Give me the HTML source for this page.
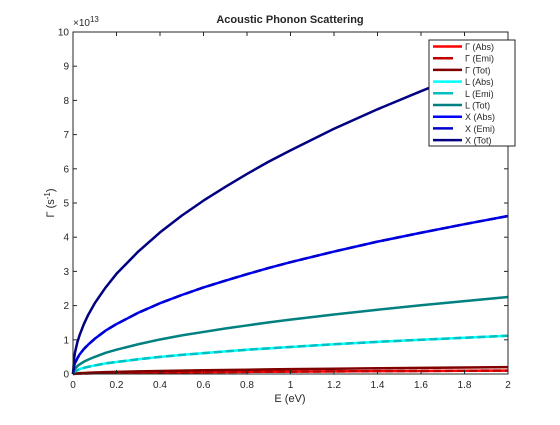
<!DOCTYPE html>
<html><head><meta charset="utf-8"><style>
body{margin:0;background:#fff;width:560px;height:420px;overflow:hidden}
svg text{font-family:"Liberation Sans",sans-serif;fill:#262626}
</style></head><body>
<svg id="chart" width="560" height="420" viewBox="0 0 560 420" xmlns="http://www.w3.org/2000/svg">
<rect x="0" y="0" width="560" height="420" fill="#fff"/>
<rect x="73" y="32" width="435" height="342" fill="#fff"/>
<g id="series"></g>
<g id="axes"></g>
<text x="290" y="23" font-size="11" font-weight="bold" text-anchor="middle" fill="#000">Acoustic Phonon Scattering</text>
<text x="290" y="402" font-size="11" text-anchor="middle">E (eV)</text>
<text transform="translate(54,203) rotate(-90)" font-size="11" text-anchor="middle">Γ (s<tspan dy="-4" font-size="8">-1</tspan><tspan dy="4">)</tspan></text>
<text x="73" y="26" font-size="10">×10<tspan dy="-4" font-size="8">13</tspan></text>
<g id="legend"></g>
</svg>
<script>
const energies=[0,0.005,0.01,0.02,0.03,0.05,0.07,0.1,0.15,0.2,0.3,0.4,0.5,0.6,0.7,0.8,0.9,1,1.2,1.4,1.6,1.8,2];
const gammaAbs=[0,0.005,0.007,0.01,0.012,0.015,0.018,0.022,0.027,0.031,0.038,0.044,0.05,0.055,0.059,0.063,0.067,0.07,0.077,0.083,0.089,0.095,0.1];
const gammaEmi=[0,0.005,0.007,0.01,0.012,0.015,0.018,0.022,0.027,0.031,0.038,0.044,0.05,0.055,0.059,0.063,0.067,0.07,0.077,0.083,0.089,0.095,0.1];
const gammaTot=[0,0.01,0.014,0.02,0.025,0.03,0.037,0.045,0.055,0.063,0.077,0.089,0.1,0.11,0.118,0.126,0.134,0.141,0.155,0.167,0.179,0.19,0.2];
const lAbs=[0,0.06,0.08,0.11,0.14,0.18,0.21,0.25,0.31,0.35,0.43,0.5,0.56,0.61,0.66,0.71,0.75,0.79,0.87,0.94,1.0,1.06,1.12];
const lEmi=[0,0.06,0.08,0.11,0.14,0.18,0.21,0.25,0.31,0.35,0.43,0.5,0.56,0.61,0.66,0.71,0.75,0.79,0.87,0.94,1.0,1.06,1.12];
const lTot=[0,0.11,0.16,0.23,0.28,0.36,0.42,0.5,0.62,0.71,0.87,1.01,1.13,1.23,1.33,1.42,1.51,1.59,1.74,1.88,2.01,2.13,2.25];
const xAbs=[0,0.23,0.33,0.46,0.57,0.73,0.86,1.03,1.27,1.46,1.79,2.07,2.31,2.53,2.73,2.92,3.1,3.27,3.58,3.87,4.13,4.38,4.62];
const xEmi=[0,0.23,0.33,0.46,0.57,0.73,0.86,1.03,1.27,1.46,1.79,2.07,2.31,2.53,2.73,2.92,3.1,3.27,3.58,3.87,4.13,4.38,4.62];
const xTot=[0,0.46,0.65,0.93,1.13,1.46,1.73,2.07,2.53,2.93,3.58,4.14,4.63,5.07,5.47,5.85,6.21,6.54,7.17,7.74,8.27,8.78,9.25];
const seriesLabels=["Γ (Abs)","Γ (Emi)","Γ (Tot)","L (Abs)","L (Emi)","L (Tot)","X (Abs)","X (Emi)","X (Tot)"];
const xTicks=[0,0.2,0.4,0.6,0.8,1,1.2,1.4,1.6,1.8,2];
const yTicks=[0,1,2,3,4,5,6,7,8,9,10];

const NS="http://www.w3.org/2000/svg";
const X0=73,X1=508,Y0=374,Y1=32;
const sx=v=>X0+(v-0)/(2-0)*(X1-X0);
const sy=v=>Y0-(v-0)/(10-0)*(Y0-Y1);
function mk(tag,attrs,parent){const e=document.createElementNS(NS,tag);for(const k in attrs)e.setAttribute(k,attrs[k]);parent.appendChild(e);return e;}
const styles=[["#ff0000",""],["#c00000","8,4"],["#800000",""],["#00ffff",""],["#00c0c0","8,4"],["#008080",""],["#0000ff",""],["#0000cc","8,4"],["#000080",""]];
const data=[gammaAbs,gammaEmi,gammaTot,lAbs,lEmi,lTot,xAbs,xEmi,xTot];
const sg=document.getElementById('series');
data.forEach((arr,i)=>{
  let d="";
  for(let j=0;j<energies.length;j++){d+=(j?"L":"M")+sx(energies[j]).toFixed(2)+","+sy(arr[j]).toFixed(2);}
  const p=mk('path',{d:d,fill:"none",stroke:styles[i][0],"stroke-width":"2.5","stroke-linejoin":"round"},sg);
  if(styles[i][1])p.setAttribute('stroke-dasharray',styles[i][1]);
  
  
});
const ag=document.getElementById('axes');
const box=mk('rect',{x:X0,y:Y1,width:X1-X0,height:Y0-Y1,fill:"none",stroke:"#262626","stroke-width":"1"},ag);


xTicks.forEach(t=>{
  const x=sx(t);
  mk('line',{x1:x,x2:x,y1:Y0,y2:Y0-4,stroke:"#262626"},ag);
  mk('line',{x1:x,x2:x,y1:Y1,y2:Y1+4,stroke:"#262626"},ag);
  const tx=mk('text',{x:x,y:Y0+14,"font-size":"10","text-anchor":"middle"},ag);
  tx.textContent=String(t);
  
  
});
yTicks.forEach(t=>{
  const y=sy(t);
  mk('line',{x1:X0,x2:X0+4,y1:y,y2:y,stroke:"#262626"},ag);
  mk('line',{x1:X1,x2:X1-4,y1:y,y2:y,stroke:"#262626"},ag);
  const tx=mk('text',{x:X0-4,y:y+3.5,"font-size":"10","text-anchor":"end"},ag);
  tx.textContent=String(t);
  
  
});
const lg=document.getElementById('legend');


mk('rect',{x:429,y:40,width:86,height:106,fill:"#fff",stroke:"#262626","stroke-width":"1"},lg);
seriesLabels.forEach((lab,i)=>{
  const y=46.5+i*11.7;
  const ln=mk('line',{x1:433,x2:462,y1:y,y2:y,stroke:styles[i][0],"stroke-width":"2.5"},lg);
  if(styles[i][1])ln.setAttribute('x2','453');
  const t=mk('text',{x:465,y:y+3.5,"font-size":"9"},lg);
  t.textContent=lab;
  
  
});
</script>
</body></html>
